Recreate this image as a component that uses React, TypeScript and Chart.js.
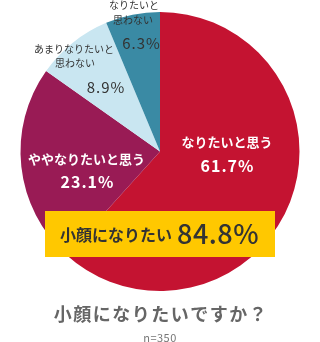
import React, { useEffect, useRef } from "react";
import { Chart, registerables } from "chart.js";

Chart.register(...registerables);

const categories = ["なりたいと思う", "ややなりたいと思う", "あまりなりたいと思わない", "なりたいと思わない"];
const values = [61.7, 23.1, 8.9, 6.3];
const colors = ["#C41331", "#991B55", "#C9E6F1", "#3A8AA4"];
const title = "小顔になりたいですか？";
const sampleNote = "n=350";
const highlightLabel = "小顔になりたい";
const highlightValue = "84.8%";

const FONT = '"Noto Sans CJK JP", "Noto Sans", sans-serif';

// label layout: lines with offsets from pie center (px), font size, weight, letter spacing
const labelLayout = [
  { lines: [{ t: categories[0], dx: 67, dy: -9.5, s: 13, w: "bold", ls: 0 }, { t: values[0].toFixed(1) + "%", dx: 67, dy: 14, s: 16, w: "bold", ls: 1 }], color: "#ffffff" },
  { lines: [{ t: categories[1], dx: -73.5, dy: 7.5, s: 13, w: "bold", ls: 0 }, { t: values[1].toFixed(1) + "%", dx: -73, dy: 30.5, s: 16, w: "bold", ls: 1 }], color: "#ffffff" },
  { lines: [{ t: "あまりなりたいと", dx: -86, dy: -102.5, s: 10, w: "normal", ls: 0 }, { t: "思わない", dx: -85, dy: -88.5, s: 10, w: "normal", ls: 0 }, { t: values[2].toFixed(1) + "%", dx: -54.5, dy: -64.5, s: 15, w: "normal", ls: 1 }], color: "#333333" },
  { lines: [{ t: "なりたいと", dx: -26, dy: -146.5, s: 10, w: "normal", ls: 0 }, { t: "思わない", dx: -27, dy: -131.5, s: 10, w: "normal", ls: 0 }, { t: values[3].toFixed(1) + "%", dx: -19, dy: -108.5, s: 15, w: "normal", ls: 1 }], color: "#333333" },
];

const overlayPlugin = {
  id: "overlay",
  afterDraw(chart: any) {
    const ctx = chart.ctx;
    const arc = chart.getDatasetMeta(0).data[0];
    const cx = arc.x;
    const cy = arc.y;
    ctx.save();
    ctx.textAlign = "center";
    ctx.textBaseline = "middle";
    labelLayout.forEach((lab) => {
      ctx.fillStyle = lab.color;
      lab.lines.forEach((ln) => {
        ctx.font = `${ln.w} ${ln.s}px ${FONT}`;
        (ctx as any).letterSpacing = `${ln.ls}px`;
        ctx.fillText(ln.t, cx + ln.dx + ln.ls / 2, cy + ln.dy);
      });
    });
    (ctx as any).letterSpacing = "0px";
    // highlight box
    ctx.fillStyle = "#FFC800";
    ctx.fillRect(cx - 115, cy + 59.5, 230, 46);
    ctx.fillStyle = "#333333";
    ctx.textAlign = "left";
    ctx.font = `bold 16px ${FONT}`;
    ctx.fillText(highlightLabel, cx - 100, cy + 83);
    ctx.font = `500 27px ${FONT}`;
    (ctx as any).letterSpacing = "0.5px";
    ctx.fillText(highlightValue, cx + 17, cy + 82);
    // title
    ctx.textAlign = "center";
    ctx.fillStyle = "#666666";
    ctx.font = `bold 18px ${FONT}`;
    (ctx as any).letterSpacing = "1.5px";
    ctx.fillText(title, cx + 1, cy + 162.5);
    (ctx as any).letterSpacing = "0.5px";
    ctx.fillStyle = "#777777";
    ctx.font = `11px ${FONT}`;
    ctx.fillText(sampleNote, cx, cy + 186);
    ctx.restore();
  },
};

export default function App() {
  const ref = useRef<HTMLCanvasElement | null>(null);
  useEffect(() => {
    if (!ref.current) return;
    const chart = new Chart(ref.current, {
      type: "pie",
      data: {
        labels: categories,
        datasets: [{ data: values, backgroundColor: colors, borderWidth: 0 }],
      },
      options: {
        responsive: false,
        animation: false,
        layout: { padding: { left: 20.5, right: 20.5, top: 12, bottom: 51 } },
        plugins: { legend: { display: false }, tooltip: { enabled: false } },
      },
      plugins: [overlayPlugin],
    });
    return () => chart.destroy();
  }, []);
  return (
    <div style={{ position: "fixed", left: 0, top: 0, width: 320, height: 342, background: "#fff" }}>
      <canvas ref={ref} width={320} height={342} style={{ width: 320, height: 342 }} />
    </div>
  );
}
